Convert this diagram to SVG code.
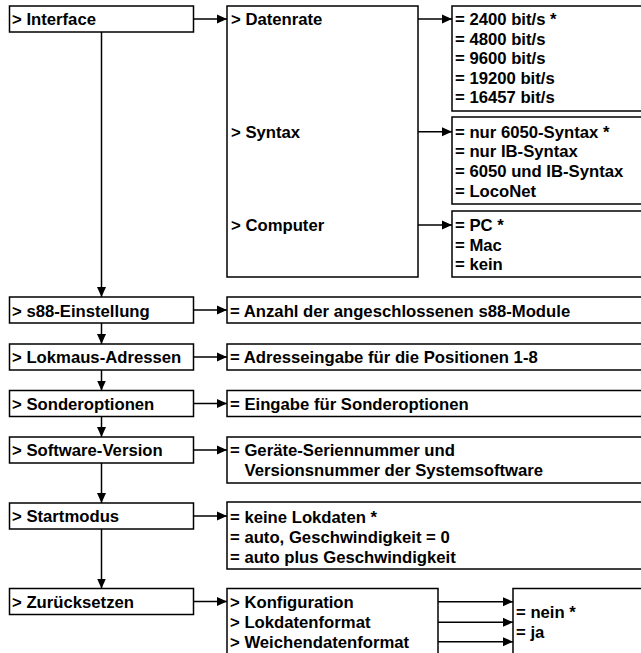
<svg xmlns="http://www.w3.org/2000/svg" width="641" height="653" viewBox="0 0 641 653">
<style>
.b{fill:#fff;stroke:#000;stroke-width:1.5}
.t{font-family:"Liberation Sans",Arial,sans-serif;font-weight:bold;font-size:16.7px;fill:#000}
.c{fill:none;stroke:#000;stroke-width:1.5}
</style>
<defs>
<marker id="ah" markerUnits="userSpaceOnUse" markerWidth="10" markerHeight="10" refX="10" refY="5" orient="auto">
<path d="M0,0.5 L10,5 L0,9.5 Z" fill="#000"/>
</marker>
</defs>
<rect width="641" height="653" fill="#fff"/>

<g id="interface"><rect class="b" x="9.5" y="6" width="184" height="26"/><text class="t" x="12" y="25">&gt; Interface</text></g>
<g id="interface-menu"><rect class="b" x="227" y="6" width="191" height="271"/>
<text class="t" x="231" y="25">&gt; Datenrate</text>
<text class="t" x="231" y="137.5">&gt; Syntax</text>
<text class="t" x="231" y="231">&gt; Computer</text></g>
<g id="datenrate-values"><rect class="b" x="452" y="6" width="195" height="105"/>
<text class="t" x="455" y="25">= 2400 bit/s *</text>
<text class="t" x="455" y="44.6">= 4800 bit/s</text>
<text class="t" x="455" y="64.2">= 9600 bit/s</text>
<text class="t" x="455" y="83.8">= 19200 bit/s</text>
<text class="t" x="455" y="103.4">= 16457 bit/s</text></g>
<g id="syntax-values"><rect class="b" x="452" y="117" width="195" height="87"/>
<text class="t" x="455" y="137.5">= nur 6050-Syntax *</text>
<text class="t" x="455" y="157.2">= nur IB-Syntax</text>
<text class="t" x="455" y="176.9">= 6050 und IB-Syntax</text>
<text class="t" x="455" y="196.6">= LocoNet</text></g>
<g id="computer-values"><rect class="b" x="452" y="211" width="195" height="66"/>
<text class="t" x="455" y="231">= PC *</text>
<text class="t" x="455" y="250.5">= Mac</text>
<text class="t" x="455" y="270">= kein</text></g>

<g id="s88"><rect class="b" x="9.5" y="297" width="184" height="26"/><text class="t" x="12" y="316.5">&gt; s88-Einstellung</text></g>
<g id="s88-value"><rect class="b" x="227" y="297" width="420" height="26"/><text class="t" x="230" y="316.5">= Anzahl der angeschlossenen s88-Module</text></g>

<g id="lokmaus"><rect class="b" x="9.5" y="344" width="184" height="26"/><text class="t" x="12" y="363">&gt; Lokmaus-Adressen</text></g>
<g id="lokmaus-value"><rect class="b" x="227" y="344" width="420" height="26"/><text class="t" x="230" y="363">= Adresseingabe für die Positionen 1-8</text></g>

<g id="sonder"><rect class="b" x="9.5" y="390.5" width="184" height="26"/><text class="t" x="12" y="409.5">&gt; Sonderoptionen</text></g>
<g id="sonder-value"><rect class="b" x="227" y="390.5" width="420" height="26"/><text class="t" x="230" y="409.5">= Eingabe für Sonderoptionen</text></g>

<g id="software"><rect class="b" x="9.5" y="437" width="184" height="26"/><text class="t" x="12" y="456">&gt; Software-Version</text></g>
<g id="software-value"><rect class="b" x="227" y="437" width="420" height="46"/>
<text class="t" x="230" y="456">= Geräte-Seriennummer und</text>
<text class="t" x="244.5" y="476">Versionsnummer der Systemsoftware</text></g>

<g id="startmodus"><rect class="b" x="9.5" y="503" width="184" height="26"/><text class="t" x="12" y="522">&gt; Startmodus</text></g>
<g id="startmodus-values"><rect class="b" x="227" y="502" width="420" height="67"/>
<text class="t" x="230" y="522.5">= keine Lokdaten *</text>
<text class="t" x="230" y="542.5">= auto, Geschwindigkeit = 0</text>
<text class="t" x="230" y="562.5">= auto plus Geschwindigkeit</text></g>

<g id="zuruecksetzen"><rect class="b" x="9.5" y="588.5" width="184" height="26"/><text class="t" x="12" y="607.5">&gt; Zurücksetzen</text></g>
<g id="reset-menu"><rect class="b" x="227" y="588.5" width="211" height="75"/>
<text class="t" x="230" y="607.5">&gt; Konfiguration</text>
<text class="t" x="230" y="628">&gt; Lokdatenformat</text>
<text class="t" x="230" y="647.5">&gt; Weichendatenformat</text></g>
<g id="reset-values"><rect class="b" x="513" y="588.5" width="134" height="75"/>
<text class="t" x="516" y="618">= nein *</text>
<text class="t" x="516" y="637.5">= ja</text></g>

<g id="connectors" class="c">
<line x1="193.5" y1="19" x2="227" y2="19" marker-end="url(#ah)"/>
<line x1="418" y1="19" x2="452" y2="19" marker-end="url(#ah)"/>
<line x1="418" y1="131.7" x2="452" y2="131.7" marker-end="url(#ah)"/>
<line x1="418" y1="225" x2="452" y2="225" marker-end="url(#ah)"/>
<line x1="101.5" y1="32" x2="101.5" y2="297" marker-end="url(#ah)"/>
<line x1="193.5" y1="310" x2="227" y2="310" marker-end="url(#ah)"/>
<line x1="101.5" y1="323" x2="101.5" y2="344" marker-end="url(#ah)"/>
<line x1="193.5" y1="357" x2="227" y2="357" marker-end="url(#ah)"/>
<line x1="101.5" y1="370" x2="101.5" y2="390.5" marker-end="url(#ah)"/>
<line x1="193.5" y1="403.5" x2="227" y2="403.5" marker-end="url(#ah)"/>
<line x1="101.5" y1="416.5" x2="101.5" y2="437" marker-end="url(#ah)"/>
<line x1="193.5" y1="450" x2="227" y2="450" marker-end="url(#ah)"/>
<line x1="101.5" y1="463" x2="101.5" y2="503" marker-end="url(#ah)"/>
<line x1="193.5" y1="516" x2="227" y2="516" marker-end="url(#ah)"/>
<line x1="101.5" y1="529" x2="101.5" y2="588.5" marker-end="url(#ah)"/>
<line x1="193.5" y1="601.5" x2="227" y2="601.5" marker-end="url(#ah)"/>
<line x1="438" y1="601.7" x2="513" y2="601.7" marker-end="url(#ah)"/>
<line x1="438" y1="622.3" x2="513" y2="622.3" marker-end="url(#ah)"/>
<line x1="438" y1="641.7" x2="513" y2="641.7" marker-end="url(#ah)"/>
</g>
</svg>
